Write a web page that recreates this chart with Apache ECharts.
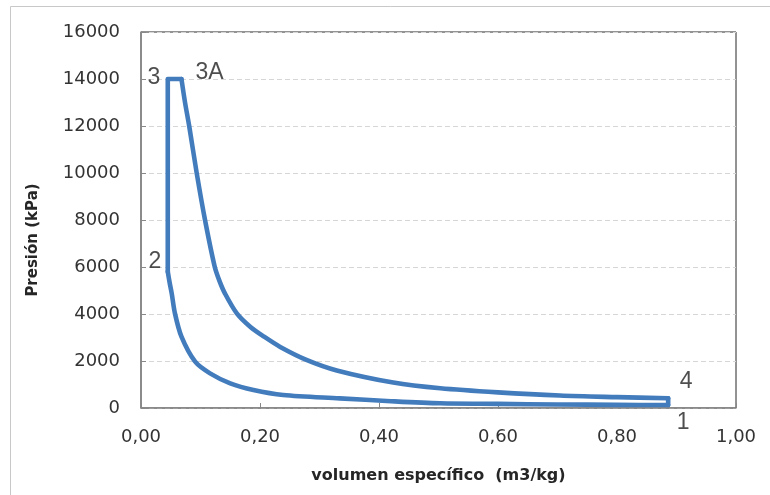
<!DOCTYPE html>
<html>
<head>
<meta charset="utf-8">
<script src="https://cdn.jsdelivr.net/npm/echarts@6/dist/echarts.min.js"></script>
<style>
html,body{margin:0;padding:0;background:#fff;}
#chart{width:770px;height:495px;}
</style>
</head>
<body>
<div id="chart"></div>
<script>
// Named states of the cycle (specific volume m3/kg, pressure kPa)
const stateNames = ['1', '2', '3', '3A', '4'];
const stateVolumes = [0.886, 0.045, 0.045, 0.068, 0.886];
const statePressures = [125, 5800, 14000, 14000, 412];

// Compression 1 -> 2 (intermediate points)
const compressionVolumes = [0.80, 0.70, 0.60, 0.503, 0.42, 0.334, 0.239, 0.189, 0.150, 0.116, 0.091, 0.068, 0.057, 0.0516, 0.048];
const compressionPressures = [135, 150, 175, 200, 290, 411, 553, 766, 1050, 1475, 1970, 3035, 4030, 4880, 5350];

// Expansion 3A -> 4 (intermediate points)
const expansionVolumes = [0.074, 0.081, 0.0936, 0.1076, 0.124, 0.132, 0.141, 0.161, 0.184, 0.206, 0.234, 0.278, 0.329, 0.424, 0.503, 0.600, 0.704, 0.800];
const expansionPressures = [13000, 12000, 10000, 8000, 6000, 5400, 4880, 4030, 3450, 3050, 2600, 2050, 1600, 1085, 838, 664, 530, 462];

// Axis ticks
const xTicks = [0, 0.2, 0.4, 0.6, 0.8, 1.0];
const yTicks = [0, 2000, 4000, 6000, 8000, 10000, 12000, 14000, 16000];

const labelOffsets = {'1': [15, 18], '2': [-13, -10], '3': [-14, -1], '3A': [28, -6], '4': [18, -17]};

const st = name => { const i = stateNames.indexOf(name); return [stateVolumes[i], statePressures[i]]; };
const pairs = (vs, ps) => vs.map((v, i) => [v, ps[i]]);

const lineColor = '#437cbd';
const baseLine = {
  type: 'line', showSymbol: false, clip: false, z: 5,
  lineStyle: {color: lineColor, width: 4.6, join: 'round', cap: 'round'}
};

const chart = echarts.init(document.getElementById('chart'), null, {renderer: 'canvas'});
chart.setOption({
  animation: false,
  backgroundColor: '#ffffff',
  graphic: [{
    type: 'rect', silent: true, z: -10,
    shape: {x: 10.5, y: 6.5, width: 900, height: 700},
    style: {fill: 'none', stroke: '#c8c8c8', lineWidth: 1}
  }],
  grid: {
    left: 141, right: 34, top: 32, bottom: 87,
    show: true, borderColor: '#262626', borderWidth: 1, backgroundColor: 'transparent'
  },
  xAxis: {
    type: 'value', min: 0, max: 1, interval: 0.2,
    name: 'volumen específico  (m3/kg)',
    nameLocation: 'middle', nameGap: 60,
    nameTextStyle: {fontFamily: 'DejaVu Sans', fontWeight: 'bold', fontSize: 16, color: '#262626'},
    axisLine: {show: true, onZero: false, lineStyle: {color: '#888888', width: 1.5}},
    axisTick: {show: true, inside: true, length: 5, lineStyle: {color: '#888888'}},
    axisLabel: {
      margin: 20, fontFamily: 'DejaVu Sans', fontSize: 18, color: '#333333',
      formatter: v => xTicks.some(t => Math.abs(t - v) < 1e-9) ? v.toFixed(2).replace('.', ',') : ''
    },
    splitLine: {show: false}
  },
  yAxis: {
    type: 'value', min: 0, max: 16000, interval: 2000,
    name: 'Presión (kPa)',
    nameLocation: 'middle', nameGap: 100, nameRotate: 90,
    nameTextStyle: {fontFamily: 'DejaVu Sans', fontWeight: 'bold', fontSize: 15, color: '#262626', padding: [0, 40, 0, 0]},
    axisLine: {show: true, lineStyle: {color: '#888888', width: 1.5}},
    axisTick: {show: true, inside: true, length: 5, lineStyle: {color: '#888888'}},
    axisLabel: {
      margin: 21, fontFamily: 'DejaVu Sans', fontSize: 18, color: '#333333',
      formatter: v => yTicks.includes(v) ? String(v) : ''
    },
    splitLine: {show: true, lineStyle: {color: '#d6d6d6', type: [5, 3], width: 1}}
  },
  series: [
    Object.assign({}, baseLine, {
      name: 'Compresión', smooth: 0.3,
      data: [st('1')].concat(pairs(compressionVolumes, compressionPressures), [st('2')])
    }),
    Object.assign({}, baseLine, {
      name: 'Combustión', smooth: false,
      data: [st('2'), st('3'), st('3A')]
    }),
    Object.assign({}, baseLine, {
      name: 'Expansión', smooth: 0.3,
      data: [st('3A')].concat(pairs(expansionVolumes, expansionPressures), [st('4')])
    }),
    Object.assign({}, baseLine, {
      name: 'Escape', smooth: false,
      data: [st('4'), st('1')]
    }),
    {
      type: 'scatter', name: 'Estados', symbolSize: 0, clip: false, z: 6,
      data: stateNames.map((n, i) => ({
        name: n, value: [stateVolumes[i], statePressures[i]],
        label: {offset: labelOffsets[n]}
      })),
      label: {
        show: true, position: 'inside',
        formatter: p => p.name,
        fontFamily: 'Liberation Sans', fontSize: 23, color: '#222222'
      }
    }
  ]
});
</script>
</body>
</html>
